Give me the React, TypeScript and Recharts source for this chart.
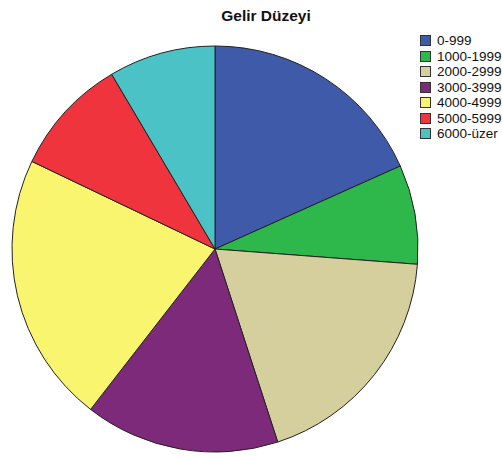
import React from "react";
import { PieChart, Pie, Cell } from "recharts";

const CATEGORIES = ["0-999", "1000-1999", "2000-2999", "3000-3999", "4000-4999", "5000-5999", "6000-üzer"];
const VALUES = [18.3, 7.9, 18.8, 15.5, 21.6, 9.4, 8.5];
const COLORS = ["#3E5AA9", "#2EB84C", "#D4CF9C", "#7D2A7A", "#FAF56F", "#F0343D", "#4AC2C6"];

const data = CATEGORIES.map((name, i) => ({ name, value: VALUES[i] }));

function LegendBox() {
    return (
        <div style={{ position: "absolute", left: 420, top: 33, fontFamily: "'Liberation Sans', Arial, sans-serif", fontSize: 13.5, color: "#111" }}>
            {CATEGORIES.map((name, i) => (
                <div key={name} style={{ display: "flex", alignItems: "center", height: 15.5, whiteSpace: "nowrap" }}>
                    <span style={{ width: 9, height: 9, background: COLORS[i], border: "1px solid #333", marginRight: 6, flexShrink: 0 }} />
                    <span>{name}</span>
                </div>
            ))}
        </div>
    );
}

export default function App() {
    return (
        <div style={{ position: "relative", width: 502, height: 456, overflow: "hidden", background: "#fff" }}>
            <style>{`body{margin:0}`}</style>
            <div style={{ position: "absolute", left: 0, width: 532, top: 7, textAlign: "center", fontFamily: "'Liberation Sans', Arial, sans-serif", fontWeight: "bold", fontSize: 15.5, color: "#111" }}>
                Gelir Düzeyi
            </div>
            <PieChart width={502} height={456} margin={{ top: 0, right: 0, bottom: 0, left: 0 }}>
                <Pie
                    data={data}
                    dataKey="value"
                    nameKey="name"
                    cx={215}
                    cy={249}
                    outerRadius={203}
                    startAngle={90}
                    endAngle={-270}
                    stroke="#222"
                    strokeWidth={1}
                    isAnimationActive={false}
                >
                    {data.map((entry, index) => (
                        <Cell key={`cell-${index}`} fill={COLORS[index]} />
                    ))}
                </Pie>
            </PieChart>
            <LegendBox />
        </div>
    );
}
